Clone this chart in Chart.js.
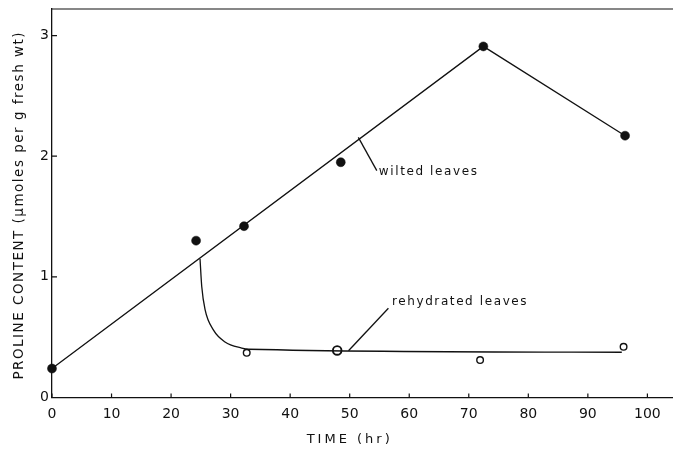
<!DOCTYPE html>
<html>
<head>
<meta charset="utf-8">
<script src="https://cdn.jsdelivr.net/npm/chart.js@4/dist/chart.umd.min.js"></script>
<style>
  html, body { margin: 0; padding: 0; background: #fff; }
  #wrap { width: 673px; height: 452px; position: relative; }
</style>
</head>
<body>
<div id="wrap"><canvas id="c"></canvas></div>
<script>
// ---- data ----
const xTickValues = [0, 10, 20, 30, 40, 50, 60, 70, 80, 90, 100];
const yTickValues = [0, 1, 2, 3];

const xTitle = "TIME (hr)";
const yTitle = "PROLINE CONTENT (\u03BCmoles per g fresh wt)";

// wilted leaves: measured points (filled circles)
const wiltedTime    = [0, 24.2, 32.25, 48.5, 72.45, 96.25];
const wiltedProline = [0.24, 1.30, 1.42, 1.95, 2.91, 2.17];
// wilted leaves: drawn trend line
const wiltedLineTime    = [0, 72.45, 96.25];
const wiltedLineProline = [0.24, 2.91, 2.17];

// rehydrated leaves: measured points (open circles)
const rehydTime    = [32.7, 47.9, 71.9, 96.0];
const rehydProline = [0.37, 0.39, 0.31, 0.42];
// rehydrated leaves: drawn curve (leaves the wilted line at ~25 hr)
const rehydCurveTime    = [24.86, 25.15, 25.7, 27.1, 29.06, 31.87, 33.0, 95.7];
const rehydCurveProline = [1.15, 0.92, 0.73, 0.56, 0.46, 0.41, 0.40, 0.375];

// annotation labels and their leader lines (data coordinates)
const labelTexts   = ["wilted leaves", "rehydrated leaves"];
const labelTime    = [54.9, 57.1];
const labelProline = [1.87, 0.79];
const leaderWiltedTime    = [51.45, 54.55];
const leaderWiltedProline = [2.156, 1.88];
const leaderRehydTime     = [56.5, 49.8];
const leaderRehydProline  = [0.74, 0.388];

const pts = (xs, ys) => xs.map((v, i) => ({ x: v, y: ys[i] }));

const INK = '#111';
const FONT = '"DejaVu Sans", "Liberation Sans", sans-serif';

const framePlugin = {
  id: 'frame',
  afterDatasetsDraw(chart) {
    const { ctx, chartArea: a, scales: { x, y } } = chart;
    ctx.save();
    ctx.strokeStyle = INK;
    ctx.lineWidth = 1.2;
    ctx.beginPath();
    // top frame line
    ctx.moveTo(a.left, a.top);
    ctx.lineTo(a.right, a.top);
    // inward tick marks
    x.ticks.forEach(t => {
      const px = x.getPixelForValue(t.value);
      ctx.moveTo(px, a.bottom);
      ctx.lineTo(px, a.bottom - 4);
    });
    y.ticks.forEach(t => {
      const py = y.getPixelForValue(t.value);
      ctx.moveTo(a.left, py);
      ctx.lineTo(a.left + 5, py);
    });
    ctx.stroke();

    // annotation texts
    ctx.fillStyle = INK;
    ctx.font = '12px ' + FONT;
    ctx.letterSpacing = '1.6px';
    ctx.textAlign = 'left';
    ctx.textBaseline = 'middle';
    labelTexts.forEach((t, i) => {
      ctx.fillText(t, x.getPixelForValue(labelTime[i]), y.getPixelForValue(labelProline[i]));
    });

    // axis titles
    ctx.textAlign = 'center';
    ctx.font = '13px ' + FONT;
    ctx.letterSpacing = '3px';
    ctx.fillText(xTitle, x.getPixelForValue(50), 440);

    ctx.save();
    ctx.translate(19, (a.top + a.bottom) / 2 + 2);
    ctx.rotate(-Math.PI / 2);
    ctx.letterSpacing = '1.5px';
    ctx.font = '13.5px ' + FONT;
    ctx.fillText(yTitle, 0, 0);
    ctx.restore();

    ctx.restore();
  }
};

const lineStyle = {
  showLine: true, borderColor: INK, borderWidth: 1.3,
  pointRadius: 0, pointHoverRadius: 0, fill: false, clip: false
};

new Chart(document.getElementById('c'), {
  type: 'scatter',
  data: {
    datasets: [
      Object.assign({ label: 'wilted line', data: pts(wiltedLineTime, wiltedLineProline), tension: 0 }, lineStyle),
      Object.assign({ label: 'rehydrated curve', data: pts(rehydCurveTime, rehydCurveProline), cubicInterpolationMode: 'monotone' }, lineStyle),
      Object.assign({ label: 'leader wilted', data: pts(leaderWiltedTime, leaderWiltedProline) }, lineStyle),
      Object.assign({ label: 'leader rehydrated', data: pts(leaderRehydTime, leaderRehydProline) }, lineStyle),
      {
        label: 'wilted leaves', data: pts(wiltedTime, wiltedProline),
        pointRadius: 4.5, pointBackgroundColor: INK, pointBorderColor: INK, pointBorderWidth: 0.5,
        showLine: false, clip: false
      },
      {
        label: 'rehydrated leaves', data: pts(rehydTime, rehydProline),
        pointRadius: [3.3, 4.3, 3.3, 3.3], pointBorderWidth: [1.4, 1.9, 1.4, 1.4],
        pointBackgroundColor: '#fff', pointBorderColor: INK,
        showLine: false, clip: false
      }
    ]
  },
  options: {
    responsive: true,
    maintainAspectRatio: false,
    animation: false,
    events: [],
    layout: { autoPadding: false, padding: { top: 9, left: 0, right: 0, bottom: 0 } },
    plugins: { legend: { display: false }, tooltip: { enabled: false } },
    scales: {
      x: {
        type: 'linear',
        min: 0, max: 104.3,
        afterBuildTicks: s => { s.ticks = xTickValues.map(v => ({ value: v })); },
        afterFit: s => { s.height = 54.5; s.paddingRight = 0; s.paddingLeft = 0; },
        grid: { display: true, drawOnChartArea: false, drawTicks: false },
        border: { display: true, color: INK, width: 1.3 },
        ticks: { color: INK, padding: 8, maxRotation: 0, font: { family: FONT, size: 14 } },
        title: { display: false }
      },
      y: {
        type: 'linear',
        min: 0, max: 3.22,
        afterBuildTicks: s => { s.ticks = yTickValues.map(v => ({ value: v })); },
        afterFit: s => { s.width = 52; s.paddingTop = 0; s.paddingBottom = 0; },
        grid: { display: true, drawOnChartArea: false, drawTicks: false },
        border: { display: true, color: INK, width: 1.3 },
        ticks: { color: INK, padding: 3, font: { family: FONT, size: 14 } },
        title: { display: false }
      }
    }
  },
  plugins: [framePlugin]
});
</script>
</body>
</html>
